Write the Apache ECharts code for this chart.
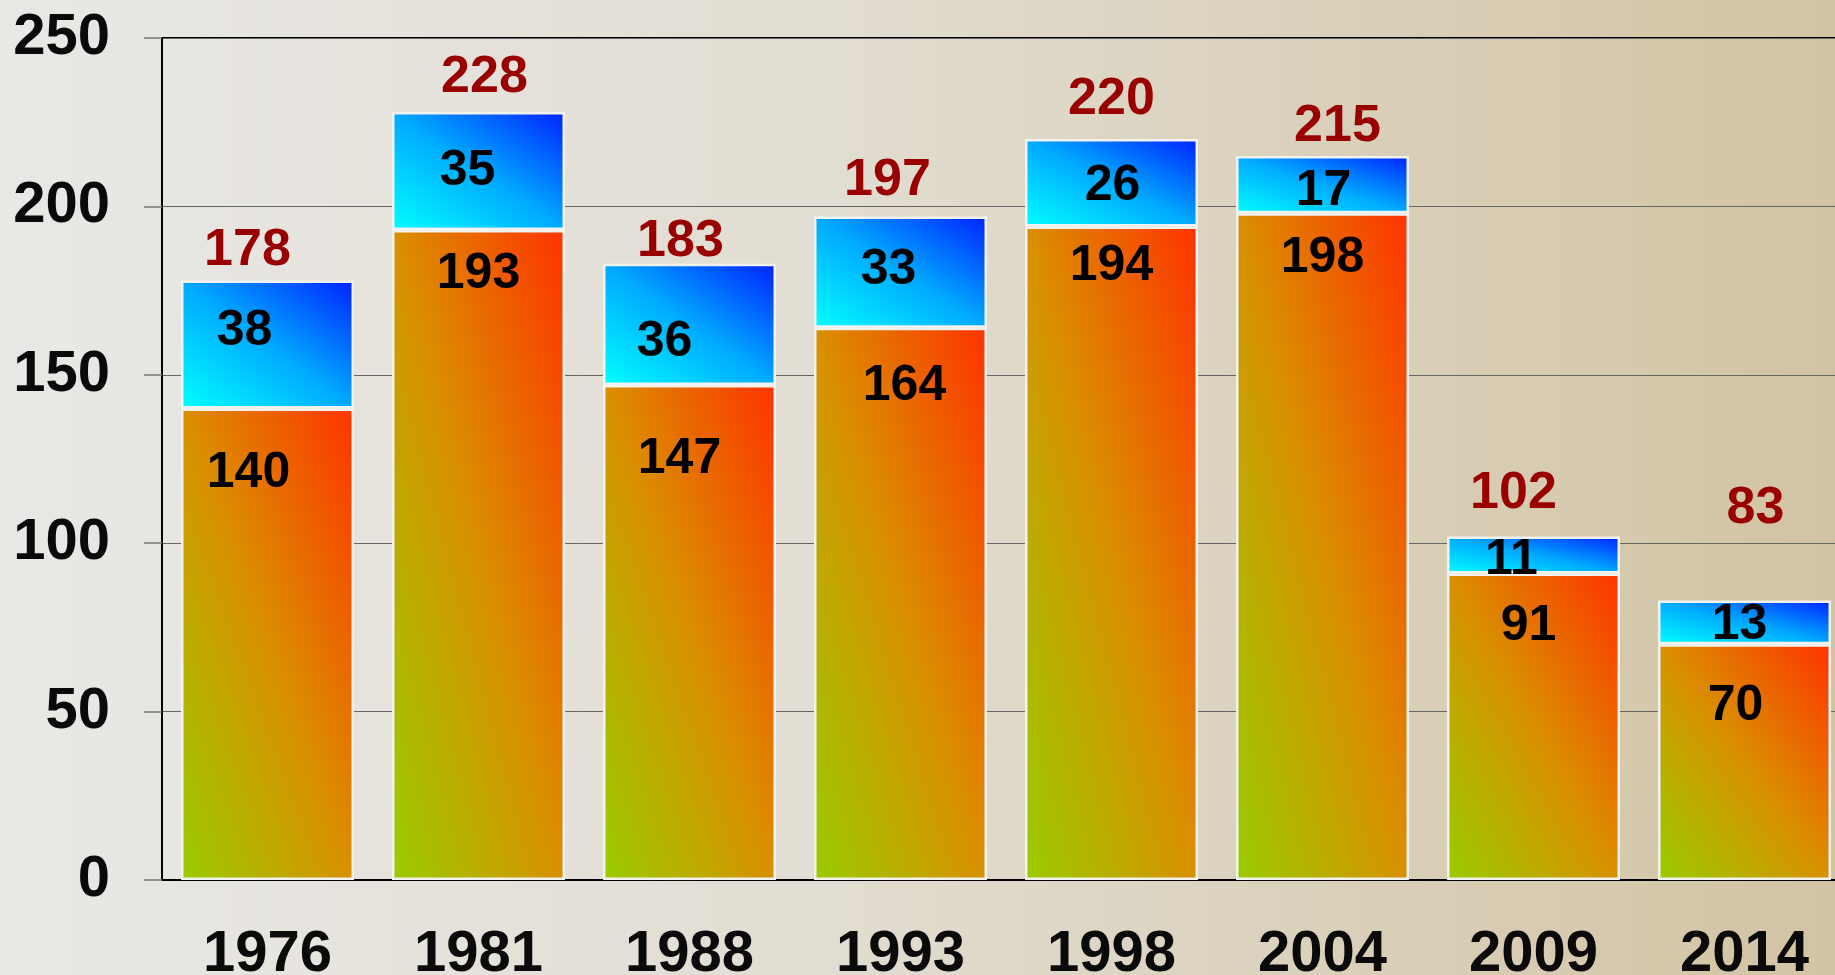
<!DOCTYPE html>
<html>
<head>
<meta charset="utf-8">
<script src="https://cdn.jsdelivr.net/npm/echarts@6/dist/echarts.min.js"></script>
<style>
  html, body { margin: 0; padding: 0; }
  #main { width: 1835px; height: 975px; }
</style>
</head>
<body>
<div id="main"></div>
<script>
// data
var years = ['1976', '1981', '1988', '1993', '1998', '2004', '2009', '2014'];
var lowerPart = [140, 193, 147, 164, 194, 198, 91, 70];
var upperPart = [38, 35, 36, 33, 26, 17, 11, 13];
var yTicks = { min: 0, max: 250, interval: 50 };

// label nudges, to sit the numbers where the original puts them
var totalShift = [[-20, 35], [6, 39], [-9, 27], [-13, 41], [0, 44], [15, 34], [-20, 48], [11, 97]];
var lowerShift = [[-19, 60], [0, 39], [-10, 69], [4, 54], [0, 35], [0, 40], [-5, 48], [-9, 57]];
var upperShift = [[-23, -18], [-11, -5], [-25, 13], [-12, -7], [1, -2], [1, 2], [-22, 0], [-5, -2]];

var totals = lowerPart.map(function (v, i) { return v + upperPart[i]; });

var font = 'Liberation Sans, Arial, sans-serif';
var plotTop = 38, plotHeight = 842, plotLeft = 162, plotWidth = 1688;
var barW = 173;
var textDrop = 5; // glyphs sit a bit above the box middle

// gradient stretched over the box like the office chart: corner to corner,
// with equal colour along the other diagonal
function boxGradient(value, c0, c1, c2) {
  var h = value * plotHeight / yTicks.max;
  var w = barW;
  var L2 = h * h + w * w;
  var a = h * h / L2, b = w * w / L2;
  return new echarts.graphic.LinearGradient(0.5 - a, 0.5 + b, 0.5 + a, 0.5 - b, [
    { offset: 0, color: c0 },
    { offset: 0.5, color: c1 },
    { offset: 1, color: c2 }
  ]);
}

var chart = echarts.init(document.getElementById('main'));

chart.setOption({
  animation: false,
  backgroundColor: new echarts.graphic.LinearGradient(0, 0, 1, 0, [
    { offset: 0, color: '#e9e8e6' },
    { offset: 0.45, color: '#e2ddd2' },
    { offset: 1, color: '#d2c4a3' }
  ]),
  grid: {
    left: plotLeft, top: plotTop, width: plotWidth, height: plotHeight,
    outerBoundsMode: 'none', containLabel: false,
    show: true, borderColor: '#000', borderWidth: 2, backgroundColor: 'transparent'
  },
  xAxis: {
    type: 'category',
    data: years,
    axisLine: { lineStyle: { color: '#000', width: 2 } },
    axisTick: { length: 17, lineStyle: { color: '#777', width: 1.5 } },
    axisLabel: { fontFamily: font, fontWeight: 'bold', fontSize: 58, color: '#0a0a0a', margin: 46 }
  },
  yAxis: {
    type: 'value',
    min: yTicks.min, max: yTicks.max, interval: yTicks.interval,
    axisLine: { show: true, lineStyle: { color: '#000', width: 2 } },
    axisTick: { show: true, length: 18, lineStyle: { color: '#777', width: 1.5 } },
    splitLine: { lineStyle: { color: '#666', width: 1 } },
    axisLabel: {
      fontFamily: font, fontWeight: 'bold', fontSize: 58, color: '#0a0a0a', margin: 52,
      padding: [10, 0, 0, 0]
    }
  },
  series: [
    {
      name: 'lower',
      type: 'bar',
      stack: 'total',
      barWidth: barW,
      z: 3,
      itemStyle: { borderColor: '#f2f2f0', borderWidth: 2.5 },
      label: {
        show: true, align: 'center', verticalAlign: 'middle',
        fontFamily: font, fontWeight: 'bold', fontSize: 50, color: '#000'
      },
      data: lowerPart.map(function (v, i) {
        return {
          value: v,
          itemStyle: { color: boxGradient(v, '#99cc00', '#d99000', '#ff3300') },
          label: { position: ['50%', lowerShift[i][1] + textDrop], offset: [lowerShift[i][0], 0] }
        };
      })
    },
    {
      name: 'upper',
      type: 'bar',
      stack: 'total',
      barWidth: barW,
      z: 3,
      itemStyle: { borderColor: '#f2f2f0', borderWidth: 2.5 },
      label: {
        show: true, align: 'center', verticalAlign: 'middle',
        fontFamily: font, fontWeight: 'bold', fontSize: 50, color: '#000'
      },
      data: upperPart.map(function (v, i) {
        return {
          value: v,
          itemStyle: { color: boxGradient(v, '#00ffff', '#00aaff', '#0022ff') },
          label: { position: ['50%', '50%'], offset: [upperShift[i][0], upperShift[i][1] + textDrop] }
        };
      })
    },
    {
      name: 'sum',
      type: 'bar',
      barWidth: barW,
      barGap: '-100%',
      z: 1,
      silent: true,
      itemStyle: { color: 'rgba(0,0,0,0)' },
      label: {
        show: true, align: 'center', verticalAlign: 'middle',
        fontFamily: font, fontWeight: 'bold', fontSize: 52, color: '#990000'
      },
      data: totals.map(function (v, i) {
        return { value: v, label: { position: ['50%', -totalShift[i][1] + textDrop], offset: [totalShift[i][0], 0] } };
      })
    }
  ]
});

window.addEventListener('resize', function () {
  chart.resize();
});
</script>
</body>
</html>
